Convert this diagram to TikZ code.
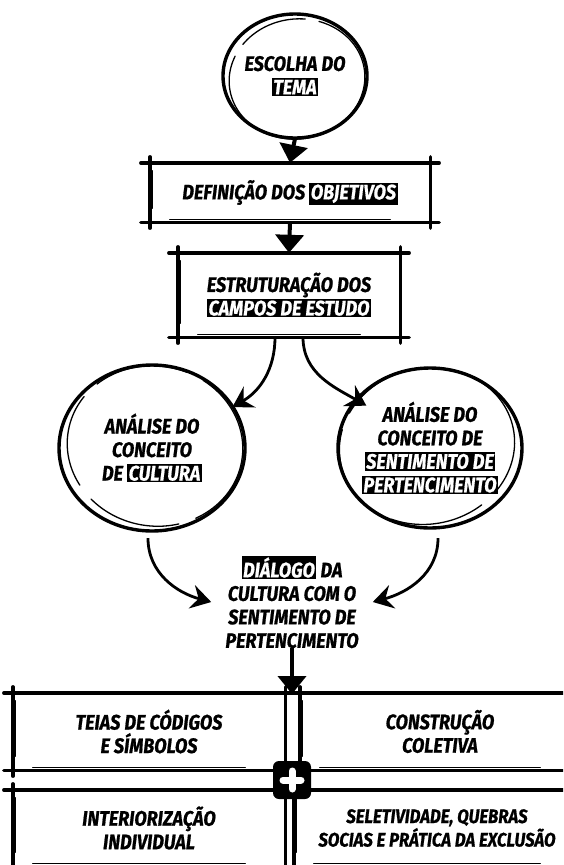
\documentclass[tikz,border=0pt]{standalone}
\usepackage{fontspec}
\setmainfont{Fira Sans}[FakeStretch=0.86,FakeBold=0.8]
\usepackage{xcolor}
\usetikzlibrary{arrows.meta,positioning}
\newcommand{\blackhl}[1]{{\setlength{\fboxsep}{1.6pt}\colorbox{black}{\textcolor{white}{#1}}}}
% sketchy frame round a node
\newcommand{\sketchrect}[1]{%
  \draw[sk] ([xshift=-9pt]#1.north west) -- ([xshift=9pt]#1.north east);
  \draw[sk] ([xshift=-9pt]#1.south west) -- ([xshift=9pt]#1.south east);
  \draw[sk] ([yshift=6pt]#1.north west) -- ([yshift=-6pt]#1.south west);
  \draw[sk] ([yshift=6pt]#1.north east) -- ([yshift=-6pt]#1.south east);
  \draw[skthin] ([xshift=3pt,yshift=-8pt]#1.north west) -- ([xshift=3pt,yshift=14pt]#1.south west);
  \draw[skthin] ([xshift=20pt,yshift=3pt]#1.south west) -- ([xshift=-40pt,yshift=3pt]#1.south east);
}

\begin{document}
\begin{tikzpicture}[x=1pt,y=1pt,
  lbl/.style={align=center,inner sep=0pt,font=\fontsize{21}{23.5}\selectfont\bfseries\itshape},
  sk/.style={line width=3.4pt,line cap=round},
  skthin/.style={line width=1.3pt,line cap=round},
  arr/.style={line width=4pt,-{Triangle[length=18pt,width=28pt]}},
  carr/.style={line width=2.8pt,-{Stealth[length=20pt,width=24pt,inset=7pt]}}]
  \useasboundingbox (0,0) rectangle (563,-865);
  \clip (0,0) rectangle (563,-865);

  % theme
  \node[lbl,circle,minimum size=125pt] (tema) at (295,-76) {ESCOLHA DO\\\blackhl{TEMA}};
  \draw[sk] (tema.center) ellipse [x radius=72, y radius=62];
  \draw[skthin,dash pattern=on 70pt off 14pt] ([xshift=2pt,yshift=-3pt]tema.center) ellipse [x radius=68, y radius=60, rotate=8];

  % objectives
  \node[lbl,minimum width=280pt,minimum height=59pt] (obj) at (290,-192.5) {DEFINIÇÃO DOS \blackhl{OBJETIVOS}};
  \sketchrect{obj}

  % fields of study
  \node[lbl,minimum width=222pt,minimum height=84pt] (est) at (289,-295) {ESTRUTURAÇÃO DOS\\\blackhl{CAMPOS DE ESTUDO}};
  \sketchrect{est}

  % the two concepts
  \node[lbl,circle,minimum size=180pt] (cult) at (152,-448) {ANÁLISE DO\\CONCEITO\\DE \blackhl{CULTURA}};
  \draw[sk] (cult.center) ellipse [x radius=93, y radius=83];
  \draw[skthin,dash pattern=on 95pt off 18pt] ([xshift=3pt,yshift=2pt]cult.center) ellipse [x radius=88, y radius=80, rotate=-10];

  \node[lbl,circle,minimum size=180pt] (sent) at (430,-448) {ANÁLISE DO\\CONCEITO DE\\\blackhl{SENTIMENTO DE}\\\blackhl{PERTENCIMENTO}};
  \draw[sk] (sent.center) ellipse [x radius=92, y radius=80];
  \draw[skthin,dash pattern=on 95pt off 18pt] ([xshift=-3pt,yshift=2pt]sent.center) ellipse [x radius=88, y radius=78, rotate=12];

  % dialogue
  \node[lbl] (dlg) at (292,-602) {\blackhl{DIÁLOGO} DA\\CULTURA COM O\\SENTIMENTO DE\\PERTENCIMENTO};

  % four outcomes
  \node[lbl,minimum width=272pt,minimum height=77pt] (teias) at (149,-731.5) {TEIAS DE CÓDIGOS\\E SÍMBOLOS};
  \node[lbl,minimum width=280pt,minimum height=77pt] (constr) at (440,-731.5) {CONSTRUÇÃO\\COLETIVA};
  \node[lbl,minimum width=272pt,minimum height=76pt] (inter) at (149,-828) {INTERIORIZAÇÃO\\INDIVIDUAL};
  \node[lbl,font=\fontsize{19.5}{23.5}\selectfont\bfseries\itshape,minimum width=286pt,minimum height=76pt] (selet) at (437,-828) {SELETIVIDADE, QUEBRAS\\SOCIAS E PRÁTICA DA EXCLUSÃO};
  \sketchrect{teias}
  \sketchrect{constr}
  \sketchrect{inter}
  \sketchrect{selet}
  \node[fill=black,rounded corners=6pt,minimum size=38pt] (plus) at (292,-780) {};
  \draw[white,line width=7pt,line cap=round] ([xshift=-9pt]plus.center) -- ([xshift=9pt]plus.center);
  \draw[white,line width=7pt,line cap=round] ([yshift=-9pt]plus.center) -- ([yshift=9pt]plus.center);
  \coordinate (gridtop) at (292,-694);

  % connectors
  \draw[arr] (tema.south) -- (obj.north);
  \draw[arr] (obj.south) -- (est.north);
  \draw[carr] ([xshift=-14pt]est.south) to[out=-90,in=30] (cult.27);
  \draw[carr] ([xshift=14pt]est.south) to[out=-90,in=150] ([xshift=16pt]sent.152);
  \draw[carr] ([xshift=-4pt]cult.south) to[out=-90,in=165] ([xshift=-14pt]dlg.west);
  \draw[carr] ([xshift=8pt]sent.south) to[out=-90,in=15] ([xshift=14pt]dlg.east);
  \draw[arr] (dlg.south) -- (gridtop);
\end{tikzpicture}
\end{document}
